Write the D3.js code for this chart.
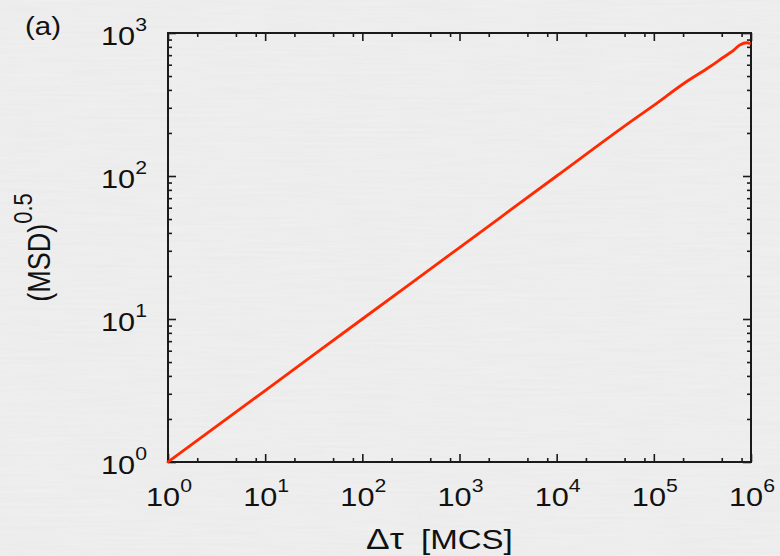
<!DOCTYPE html>
<html>
<head>
<meta charset="utf-8">
<script src="https://cdn.jsdelivr.net/npm/d3@7"></script>
<style>
  html, body { margin: 0; padding: 0; background: #eeeeee; }
  svg { display: block; }
  text { font-family: "Liberation Sans", Arial, Helvetica, sans-serif; fill: #111; }
</style>
</head>
<body>
<svg id="chart" width="780" height="556"></svg>
<script>
// ---- data ----
const tau = [1, 10, 100, 1000, 10000, 60800, 100000, 200000, 377000, 564000, 635000, 767000, 905000, 972000];
const msdRoot = [1, 3.16, 10, 31.6, 100, 246, 312, 440, 581, 702, 740, 824, 855, 847];
const xMajorTicks = [1, 10, 100, 1000, 10000, 100000, 1000000];
const xMajorExp = ["0", "1", "2", "3", "4", "5", "6"];
const yMajorTicks = [1, 10, 100, 1000];
const yMajorExp = ["0", "1", "2", "3"];
const xMinorMult = [2, 5, 8];
const yMinorMult = [2, 3, 4, 5, 6, 7, 8, 9];
const xTitle = ["Δτ", "[MCS]"];
const yTitle = ["(MSD)", "0.5"];
const panelLabel = "(a)";

(function () {
// ---- layout ----
const svg = d3.select("#chart");
const W = 780, H = 556;
const mLeft = 168, mRight = 751, mTop = 33, mBottom = 462;
const SX = 1.18; // horizontal stretch of the lettering in the reference

// background with a faint paper texture
const defs = svg.append("defs");
const f = defs.append("filter").attr("id", "paper").attr("x", 0).attr("y", 0).attr("width", "100%").attr("height", "100%");
f.append("feTurbulence").attr("type", "fractalNoise").attr("baseFrequency", "0.015 0.35").attr("numOctaves", 2).attr("seed", 3);
f.append("feColorMatrix").attr("type", "matrix")
  .attr("values", "0 0 0 0 0.5  0 0 0 0 0.5  0 0 0 0 0.5  0.12 0.12 0.12 0 -0.12");
svg.append("rect").attr("width", W).attr("height", H).attr("fill", "#efefef");
svg.append("rect").attr("width", W).attr("height", H).attr("filter", "url(#paper)").attr("opacity", 0.6);

const x = d3.scaleLog().domain([1, 1e6]).range([mLeft, mRight]);
const y = d3.scaleLog().domain([1, 1e3]).range([mBottom, mTop]);

const minorVals = (majors, mult) => {
  const out = [];
  majors.slice(0, -1).forEach(m => mult.forEach(k => out.push(m * k)));
  return out;
};
const xMinor = minorVals(xMajorTicks, xMinorMult);
const yMinor = minorVals(yMajorTicks, yMinorMult);

const axisColor = "#1a1a1a";
function styleAxis(g) {
  g.select(".domain").remove();
  g.selectAll(".tick line").attr("stroke", axisColor).attr("stroke-width", 1.6);
  g.selectAll(".tick text").remove();
}
// bottom
svg.append("g").attr("transform", `translate(0,${mBottom})`)
  .call(d3.axisBottom(x).tickValues(xMajorTicks).tickSize(-8).tickFormat("")).call(styleAxis);
svg.append("g").attr("transform", `translate(0,${mBottom})`)
  .call(d3.axisBottom(x).tickValues(xMinor).tickSize(-4).tickFormat("")).call(styleAxis);
// top
svg.append("g").attr("transform", `translate(0,${mTop})`)
  .call(d3.axisTop(x).tickValues(xMajorTicks).tickSize(-8).tickFormat("")).call(styleAxis);
svg.append("g").attr("transform", `translate(0,${mTop})`)
  .call(d3.axisTop(x).tickValues(xMinor).tickSize(-4).tickFormat("")).call(styleAxis);
// left
svg.append("g").attr("transform", `translate(${mLeft},0)`)
  .call(d3.axisLeft(y).tickValues(yMajorTicks).tickSize(-8).tickFormat("")).call(styleAxis);
svg.append("g").attr("transform", `translate(${mLeft},0)`)
  .call(d3.axisLeft(y).tickValues(yMinor).tickSize(-4).tickFormat("")).call(styleAxis);
// right
svg.append("g").attr("transform", `translate(${mRight},0)`)
  .call(d3.axisRight(y).tickValues(yMajorTicks).tickSize(-8).tickFormat("")).call(styleAxis);
svg.append("g").attr("transform", `translate(${mRight},0)`)
  .call(d3.axisRight(y).tickValues(yMinor).tickSize(-4).tickFormat("")).call(styleAxis);

// frame
svg.append("rect").attr("x", mLeft).attr("y", mTop).attr("width", mRight - mLeft).attr("height", mBottom - mTop)
  .attr("fill", "none").attr("stroke", axisColor).attr("stroke-width", 2);

// x tick labels
xMajorTicks.forEach((v, i) => {
  const t = svg.append("text").attr("transform", `translate(${x(v) + 1},${mBottom + 44}) scale(${SX},1)`)
    .attr("text-anchor", "middle").attr("font-size", 26);
  t.append("tspan").text("10");
  t.append("tspan").attr("font-size", 18).attr("dy", -14).text(xMajorExp[i]);
});
// y tick labels
yMajorTicks.forEach((v, i) => {
  const t = svg.append("text").attr("transform", `translate(147,${y(v) + 12}) scale(${SX},1)`)
    .attr("text-anchor", "end").attr("font-size", 26);
  t.append("tspan").text("10");
  t.append("tspan").attr("font-size", 18).attr("dy", -14).text(yMajorExp[i]);
});

// the curve
const line = d3.line().x((d, i) => x(tau[i])).y((d, i) => y(msdRoot[i])).curve(d3.curveMonotoneX);
svg.append("path").datum(tau).attr("d", line)
  .attr("fill", "none").attr("stroke", "#ff2a00").attr("stroke-width", 2.8)
  .attr("stroke-linejoin", "round").attr("stroke-linecap", "round");

// axis titles
svg.append("text").attr("transform", `translate(366,549) scale(${SX},1)`)
  .attr("font-size", 30).attr("font-family", "'Liberation Serif', 'DejaVu Serif', serif").text(xTitle[0]);
svg.append("text").attr("transform", `translate(421,549) scale(${SX},1)`)
  .attr("font-size", 28).text(xTitle[1]);

const yt = svg.append("text").attr("transform", `translate(50,${(mTop + mBottom) / 2}) scale(${SX},1) rotate(-90)`)
  .attr("text-anchor", "middle").attr("font-size", 27);
yt.append("tspan").text(yTitle[0]);
yt.append("tspan").attr("font-size", 22).attr("dy", -15).text(yTitle[1]);

// panel label
svg.append("text").attr("transform", `translate(25,35) scale(${SX},1)`).attr("font-size", 25).text(panelLabel);
})();
</script>
</body>
</html>
